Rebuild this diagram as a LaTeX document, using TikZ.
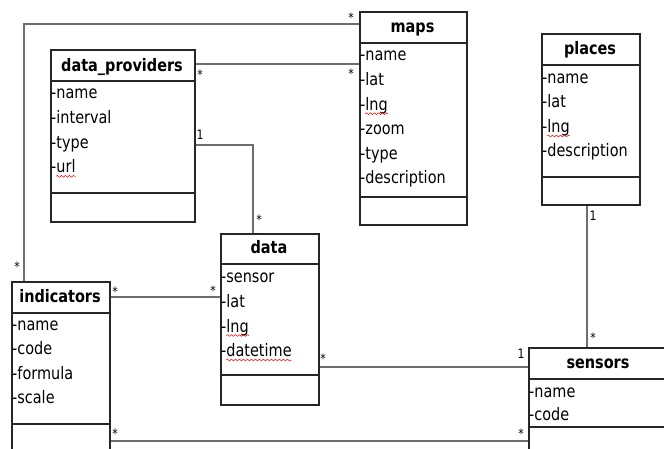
\documentclass[tikz,border=0pt]{standalone}
\usepackage{fontspec}
\setmainfont{DejaVu Sans}[FakeStretch=0.84]
\usetikzlibrary{decorations.pathmorphing}
\definecolor{boxc}{HTML}{262626}
\definecolor{linec}{HTML}{6E6E6E}
\begin{document}
\begin{tikzpicture}[x=1pt,y=-1pt,
  classbox/.style={draw=boxc, fill=white, line width=1.8pt, inner sep=0pt, anchor=north west},
  sepline/.style={draw=boxc, line width=1.8pt},
  conn/.style={draw=linec, line width=1.2pt},
  ctitle/.style={font=\fontsize{17.2}{20}\selectfont\bfseries, anchor=base, inner sep=0pt},
  attr/.style={font=\fontsize{17.2}{20}\selectfont, anchor=base west, inner sep=0pt},
  mult/.style={font=\fontsize{13}{15}\selectfont, anchor=base, inner sep=0pt},
  spell/.style={draw=red, line width=0.5pt, decorate,
    decoration={snake, segment length=4pt, amplitude=0.9pt}}]
\useasboundingbox (0,0) rectangle (664,449);

% ---------- class boxes ----------
\node[classbox, minimum width=144pt, minimum height=172pt] (dp) at (50,49) {};
\node[classbox, minimum width=107pt, minimum height=213pt] (maps) at (359,11) {};
\node[classbox, minimum width=98pt, minimum height=171pt] (places) at (541,33) {};
\node[classbox, minimum width=98pt, minimum height=171pt] (data) at (220,233) {};
\node[classbox, minimum width=98pt, minimum height=200pt] (ind) at (11,281) {};
\node[classbox, minimum width=140pt, minimum height=150pt] (sens) at (528,347) {};

% ---------- connectors ----------
\coordinate (k1) at (24,24);
\draw[conn] (ind.north -| k1) -- (k1) -- (maps.west |- k1);
\coordinate (k2) at (0,64);
\draw[conn] (dp.east |- k2) -- (maps.west |- k2);
\coordinate (k3) at (253,145);
\draw[conn] (dp.east |- k3) -- (k3) -- (data.north -| k3);
\coordinate (k4) at (0,297);
\draw[conn] (ind.east |- k4) -- (data.west |- k4);
\coordinate (k5) at (0,367);
\draw[conn] (data.east |- k5) -- (sens.west |- k5);
\coordinate (k6) at (0,441);
\draw[conn] (ind.east |- k6) -- (sens.west |- k6);
\coordinate (k7) at (587,0);
\draw[conn] (places.south -| k7) -- (sens.north -| k7);

% ---------- compartment separators ----------
\foreach \c/\ya/\yb in {dp/81/193, maps/43/197, places/65/177, data/264/375, ind/313/424, sens/379/427}{
  \draw[sepline] (\c.west |- 0,\ya) -- (\c.east |- 0,\ya);
  \draw[sepline] (\c.west |- 0,\yb) -- (\c.east |- 0,\yb);
}

% ---------- data_providers ----------
\node[ctitle] (dpt) at (122,72) {data\_providers};
\node[attr] (dp1) at (51,99) {-name};
\node[attr] (dp2) at (51,123.6) {-interval};
\node[attr] (dp3) at (51,148.2) {-type};
\node[attr] (dp4) at (51,172.8) {-url};

% ---------- maps ----------
\node[ctitle] (mapst) at (412.5,33) {maps};
\node[attr] (maps1) at (360,61) {-name};
\node[attr] (maps2) at (360,85.6) {-lat};
\node[attr] (maps3) at (360,110.2) {-lng};
\node[attr] (maps4) at (360,134.8) {-zoom};
\node[attr] (maps5) at (360,159.4) {-type};
\node[attr] (maps6) at (360,184) {-description};

% ---------- places ----------
\node[ctitle] (placest) at (590,55) {places};
\node[attr] (pl1) at (542,83.5) {-name};
\node[attr] (pl2) at (542,108) {-lat};
\node[attr] (pl3) at (542,132.5) {-lng};
\node[attr] (pl4) at (542,157) {-description};

% ---------- data ----------
\node[ctitle] (datat) at (269,254) {data};
\node[attr] (da1) at (221,283) {-sensor};
\node[attr] (da2) at (221,307.5) {-lat};
\node[attr] (da3) at (221,332) {-lng};
\node[attr] (da4) at (221,356.5) {-datetime};

% ---------- indicators ----------
\node[ctitle] (indt) at (60,302) {indicators};
\node[attr] (in1) at (12,330) {-name};
\node[attr] (in2) at (12,354.5) {-code};
\node[attr] (in3) at (12,379) {-formula};
\node[attr] (in4) at (12,403.5) {-scale};

% ---------- sensors ----------
\node[ctitle] (senst) at (598,368) {sensors};
\node[attr] (se1) at (529,397) {-name};
\node[attr] (se2) at (529,420) {-code};

% ---------- spell-check underlines ----------
\foreach \n in {dp4, maps3, pl3, da3, da4}{
  \draw[spell] ([xshift=5.2pt,yshift=-3.5pt]\n.base west) -- ([yshift=-3.5pt]\n.base east);
}

% ---------- multiplicities ----------
\node[mult] (m1) at (351,23) {*};
\node[mult] (m2) at (351,79) {*};
\node[mult] (m3) at (200,80) {*};
\node[mult] (m4) at (200,140) {1};
\node[mult] (m5) at (259,225) {*};
\node[mult] (m6) at (17,272) {*};
\node[mult] (m7) at (115,296) {*};
\node[mult] (m8) at (213,295) {*};
\node[mult] (m9) at (323,363) {*};
\node[mult] (m10) at (521,358) {1};
\node[mult] (m11) at (115,438) {*};
\node[mult] (m12) at (521,438) {*};
\node[mult] (m13) at (593,221) {1};
\node[mult] (m14) at (593,342) {*};
\end{tikzpicture}
\end{document}
